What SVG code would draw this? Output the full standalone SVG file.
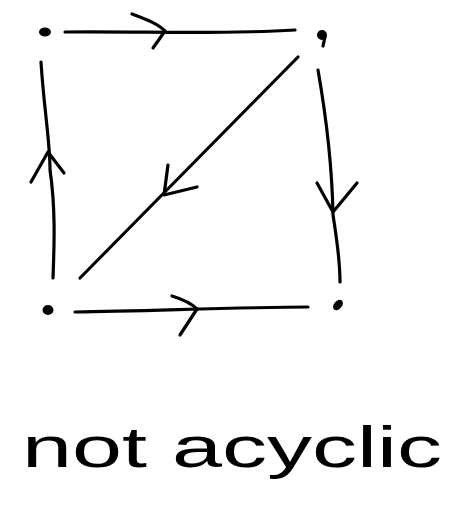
<svg xmlns="http://www.w3.org/2000/svg" width="474" height="508" viewBox="0 0 474 508">
<style>
.e{fill:none;stroke:#000;stroke-width:3.2;stroke-linecap:round;stroke-linejoin:round}
.n{fill:#000;stroke:#000;stroke-width:2}
.t{font-family:"Liberation Sans",sans-serif;font-size:58px;fill:#000}
</style>
<rect width="474" height="508" fill="#fff"/>
<g id="connectors">
<path class="e" d="M65,32 C140,31 220,35 295,30"/>
<path class="e" d="M132,14 C148,20 158,24 165,31 L153,48"/>
<path class="e" d="M41,62 C44,110 50,140 50,170 C56,210 54,250 53,278"/>
<path class="e" d="M31,182 L48,152 L64,173"/>
<path class="e" d="M298,57 L80,278"/>
<path class="e" d="M168,165 L164,195 L197,187"/>
<path class="e" d="M318,70 C325,110 332,160 333,215 C337,240 340,262 340,282"/>
<path class="e" d="M317,183 L333,212 L357,183"/>
<path class="e" d="M75,312 C150,311 240,307 308,307"/>
<path class="e" d="M172,296 C185,300 192,304 197,309 L180,335"/>
</g>
<g id="n1"><ellipse class="n" cx="45" cy="32" rx="5" ry="3.5"/></g>
<g id="n2"><ellipse class="n" cx="322" cy="35" rx="4" ry="4"/><path class="e" d="M325,37 L323,46"/></g>
<g id="n3"><ellipse class="n" cx="48" cy="310" rx="4.5" ry="4"/></g>
<g id="n4"><ellipse class="n" cx="338" cy="305" rx="3" ry="5" transform="rotate(40 338 305)"/></g>
<g id="label"><text class="t" x="22" y="467" textLength="420" lengthAdjust="spacingAndGlyphs">not acyclic</text></g>
</svg>
